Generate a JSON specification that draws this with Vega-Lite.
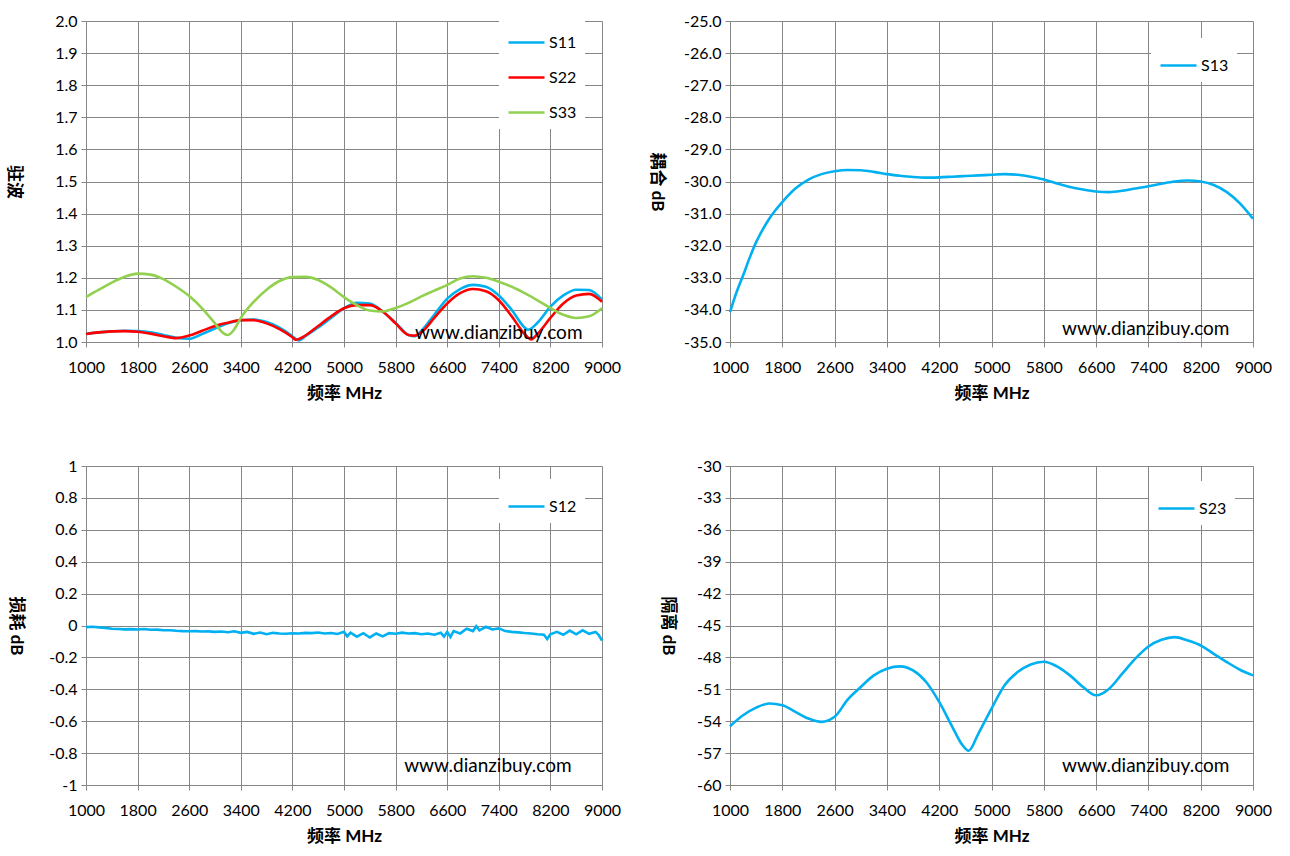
{
  "$schema": "https://vega.github.io/schema/vega-lite/v6.json",
  "background": "white",
  "padding": {"left": 5, "top": 13, "right": 0, "bottom": 0},
  "config": {
    "font": "Lato, Noto Sans CJK SC",
    "view": {"stroke": null},
    "locale": {"number": {"decimal": ".", "thousands": ",", "grouping": [3], "currency": ["$", ""], "minus": "-"}},
    "axis": {
      "gridColor": "#868686", "gridWidth": 1, "gridOpacity": 1,
      "domainColor": "#868686", "tickColor": "#868686", "tickSize": 5,
      "labelFont": "Lato", "labelFontSize": 16, "labelColor": "#000000",
      "titleFont": "Lato, Noto Sans CJK SC", "titleFontSize": 17, "titleFontWeight": "bold", "titleColor": "#000000",
      "labelOverlap": false, "labelFlush": false, "tickCount": 20
    },
    "axisX": {"labelPadding": 12, "titlePadding": 10},
    "axisY": {"labelPadding": 4, "titleAngle": 90, "titleAlign": "center", "titleBaseline": "middle"},
    "legend": {
      "fillColor": "white", "padding": 8, "symbolType": "stroke", "symbolSize": 1296,
      "symbolStrokeWidth": 2.5, "labelFont": "Lato", "labelFontSize": 16, "labelColor": "#000000",
      "labelOffset": 3, "rowPadding": 7
    }
  },
  "columns": 2,
  "bounds": "flush",
  "spacing": {"row": 124, "column": 128},
  "resolve": {
    "scale": {"x": "independent", "y": "independent", "color": "independent", "strokeWidth": "independent"},
    "legend": {"color": "independent"}
  },
  "concat": [
    {
      "width": 516, "height": 321,
      "layer": [
        {
          "data": {"values": [
            {"f":1000,"v":1.025,"s":"S11"},{"f":1200,"v":1.030,"s":"S11"},{"f":1400,"v":1.033,"s":"S11"},{"f":1600,"v":1.035,"s":"S11"},{"f":1800,"v":1.034,"s":"S11"},{"f":2000,"v":1.030,"s":"S11"},{"f":2200,"v":1.022,"s":"S11"},{"f":2400,"v":1.013,"s":"S11"},{"f":2600,"v":1.010,"s":"S11"},{"f":2800,"v":1.025,"s":"S11"},{"f":3000,"v":1.042,"s":"S11"},{"f":3200,"v":1.058,"s":"S11"},{"f":3400,"v":1.068,"s":"S11"},{"f":3600,"v":1.070,"s":"S11"},{"f":3800,"v":1.062,"s":"S11"},{"f":4000,"v":1.045,"s":"S11"},{"f":4200,"v":1.018,"s":"S11"},{"f":4300,"v":1.005,"s":"S11"},{"f":4400,"v":1.018,"s":"S11"},{"f":4600,"v":1.045,"s":"S11"},{"f":4800,"v":1.075,"s":"S11"},{"f":5000,"v":1.105,"s":"S11"},{"f":5200,"v":1.122,"s":"S11"},{"f":5400,"v":1.120,"s":"S11"},{"f":5600,"v":1.095,"s":"S11"},{"f":5800,"v":1.060,"s":"S11"},{"f":6000,"v":1.022,"s":"S11"},{"f":6100,"v":1.018,"s":"S11"},{"f":6200,"v":1.035,"s":"S11"},{"f":6400,"v":1.085,"s":"S11"},{"f":6600,"v":1.135,"s":"S11"},{"f":6800,"v":1.165,"s":"S11"},{"f":7000,"v":1.178,"s":"S11"},{"f":7200,"v":1.172,"s":"S11"},{"f":7400,"v":1.145,"s":"S11"},{"f":7600,"v":1.100,"s":"S11"},{"f":7800,"v":1.045,"s":"S11"},{"f":7850,"v":1.038,"s":"S11"},{"f":8000,"v":1.060,"s":"S11"},{"f":8200,"v":1.110,"s":"S11"},{"f":8400,"v":1.145,"s":"S11"},{"f":8600,"v":1.163,"s":"S11"},{"f":8800,"v":1.162,"s":"S11"},{"f":9000,"v":1.132,"s":"S11"},
            {"f":1000,"v":1.025,"s":"S22"},{"f":1200,"v":1.030,"s":"S22"},{"f":1400,"v":1.033,"s":"S22"},{"f":1600,"v":1.034,"s":"S22"},{"f":1800,"v":1.032,"s":"S22"},{"f":2000,"v":1.026,"s":"S22"},{"f":2200,"v":1.018,"s":"S22"},{"f":2400,"v":1.012,"s":"S22"},{"f":2600,"v":1.020,"s":"S22"},{"f":2800,"v":1.035,"s":"S22"},{"f":3000,"v":1.050,"s":"S22"},{"f":3200,"v":1.060,"s":"S22"},{"f":3400,"v":1.068,"s":"S22"},{"f":3600,"v":1.068,"s":"S22"},{"f":3800,"v":1.058,"s":"S22"},{"f":4000,"v":1.040,"s":"S22"},{"f":4200,"v":1.015,"s":"S22"},{"f":4250,"v":1.007,"s":"S22"},{"f":4400,"v":1.020,"s":"S22"},{"f":4600,"v":1.050,"s":"S22"},{"f":4800,"v":1.080,"s":"S22"},{"f":5000,"v":1.105,"s":"S22"},{"f":5200,"v":1.115,"s":"S22"},{"f":5400,"v":1.115,"s":"S22"},{"f":5600,"v":1.095,"s":"S22"},{"f":5800,"v":1.058,"s":"S22"},{"f":6000,"v":1.022,"s":"S22"},{"f":6100,"v":1.020,"s":"S22"},{"f":6200,"v":1.030,"s":"S22"},{"f":6400,"v":1.075,"s":"S22"},{"f":6600,"v":1.120,"s":"S22"},{"f":6800,"v":1.152,"s":"S22"},{"f":7000,"v":1.165,"s":"S22"},{"f":7200,"v":1.158,"s":"S22"},{"f":7400,"v":1.130,"s":"S22"},{"f":7600,"v":1.080,"s":"S22"},{"f":7800,"v":1.025,"s":"S22"},{"f":7900,"v":1.008,"s":"S22"},{"f":8000,"v":1.025,"s":"S22"},{"f":8200,"v":1.075,"s":"S22"},{"f":8400,"v":1.120,"s":"S22"},{"f":8600,"v":1.145,"s":"S22"},{"f":8800,"v":1.150,"s":"S22"},{"f":9000,"v":1.125,"s":"S22"},
            {"f":1000,"v":1.140,"s":"S33"},{"f":1200,"v":1.163,"s":"S33"},{"f":1400,"v":1.185,"s":"S33"},{"f":1600,"v":1.203,"s":"S33"},{"f":1800,"v":1.213,"s":"S33"},{"f":2000,"v":1.210,"s":"S33"},{"f":2200,"v":1.196,"s":"S33"},{"f":2400,"v":1.172,"s":"S33"},{"f":2600,"v":1.143,"s":"S33"},{"f":2800,"v":1.105,"s":"S33"},{"f":3000,"v":1.058,"s":"S33"},{"f":3100,"v":1.033,"s":"S33"},{"f":3200,"v":1.022,"s":"S33"},{"f":3300,"v":1.040,"s":"S33"},{"f":3400,"v":1.075,"s":"S33"},{"f":3600,"v":1.125,"s":"S33"},{"f":3800,"v":1.163,"s":"S33"},{"f":4000,"v":1.190,"s":"S33"},{"f":4200,"v":1.202,"s":"S33"},{"f":4400,"v":1.203,"s":"S33"},{"f":4600,"v":1.193,"s":"S33"},{"f":4800,"v":1.170,"s":"S33"},{"f":5000,"v":1.140,"s":"S33"},{"f":5200,"v":1.115,"s":"S33"},{"f":5400,"v":1.098,"s":"S33"},{"f":5600,"v":1.095,"s":"S33"},{"f":5800,"v":1.106,"s":"S33"},{"f":6000,"v":1.122,"s":"S33"},{"f":6200,"v":1.142,"s":"S33"},{"f":6400,"v":1.160,"s":"S33"},{"f":6600,"v":1.178,"s":"S33"},{"f":6800,"v":1.198,"s":"S33"},{"f":7000,"v":1.205,"s":"S33"},{"f":7200,"v":1.200,"s":"S33"},{"f":7400,"v":1.188,"s":"S33"},{"f":7600,"v":1.172,"s":"S33"},{"f":7800,"v":1.152,"s":"S33"},{"f":8000,"v":1.130,"s":"S33"},{"f":8200,"v":1.106,"s":"S33"},{"f":8400,"v":1.085,"s":"S33"},{"f":8600,"v":1.075,"s":"S33"},{"f":8800,"v":1.080,"s":"S33"},{"f":9000,"v":1.105,"s":"S33"}
          ]},
          "mark": {"type": "line", "interpolate": "monotone"},
          "encoding": {
            "x": {"field": "f", "type": "quantitative", "scale": {"domain": [1000, 9000], "nice": false, "zero": false},
                  "axis": {"values": [1000,1800,2600,3400,4200,5000,5800,6600,7400,8200,9000], "format": "d", "title": "频率 MHz", "tickCount": 20}},
            "y": {"field": "v", "type": "quantitative", "scale": {"domain": [1, 2], "nice": false, "zero": false},
                  "axis": {"values": [1,1.1,1.2,1.3,1.4,1.5,1.6,1.7,1.8,1.9,2], "format": ".1f", "title": "驻波", "titleX": -73, "tickCount": 20}},
            "color": {"field": "s", "type": "nominal",
                      "scale": {"domain": ["S11","S22","S33"], "range": ["#00B0F0","#FF0000","#92D050"]},
                      "legend": {"title": null, "orient": "none", "legendX": 413, "legendY": -6}},
            "strokeWidth": {"field": "s", "type": "nominal", "scale": {"domain": ["S11","S22","S33"], "range": [2.6,2.6,2]}, "legend": null}
          }
        },
        {
          "data": {"values": [{"label": "www.dianzibuy.com"}]},
          "mark": {"type": "text", "fontSize": 19, "font": "Lato", "align": "center", "baseline": "middle", "color": "#000000"},
          "encoding": {"x": {"datum": 7400}, "y": {"datum": 1.028}, "text": {"field": "label"}}
        }
      ]
    },
    {
      "width": 523, "height": 321,
      "layer": [
        {
          "data": {"values": [
            {"f":1000,"v":-34.07,"s":"S13"},{"f":1100,"v":-33.45,"s":"S13"},{"f":1200,"v":-32.93,"s":"S13"},{"f":1300,"v":-32.38,"s":"S13"},{"f":1400,"v":-31.89,"s":"S13"},{"f":1500,"v":-31.50,"s":"S13"},{"f":1600,"v":-31.16,"s":"S13"},{"f":1700,"v":-30.88,"s":"S13"},{"f":1800,"v":-30.64,"s":"S13"},{"f":2000,"v":-30.22,"s":"S13"},{"f":2200,"v":-29.94,"s":"S13"},{"f":2400,"v":-29.77,"s":"S13"},{"f":2600,"v":-29.68,"s":"S13"},{"f":2800,"v":-29.64,"s":"S13"},{"f":3000,"v":-29.65,"s":"S13"},{"f":3200,"v":-29.70,"s":"S13"},{"f":3400,"v":-29.77,"s":"S13"},{"f":3600,"v":-29.82,"s":"S13"},{"f":3800,"v":-29.86,"s":"S13"},{"f":4000,"v":-29.88,"s":"S13"},{"f":4200,"v":-29.87,"s":"S13"},{"f":4400,"v":-29.85,"s":"S13"},{"f":4600,"v":-29.83,"s":"S13"},{"f":4800,"v":-29.81,"s":"S13"},{"f":5000,"v":-29.79,"s":"S13"},{"f":5200,"v":-29.77,"s":"S13"},{"f":5400,"v":-29.79,"s":"S13"},{"f":5600,"v":-29.85,"s":"S13"},{"f":5800,"v":-29.94,"s":"S13"},{"f":6000,"v":-30.06,"s":"S13"},{"f":6200,"v":-30.17,"s":"S13"},{"f":6400,"v":-30.25,"s":"S13"},{"f":6600,"v":-30.31,"s":"S13"},{"f":6800,"v":-30.33,"s":"S13"},{"f":7000,"v":-30.29,"s":"S13"},{"f":7200,"v":-30.22,"s":"S13"},{"f":7400,"v":-30.15,"s":"S13"},{"f":7600,"v":-30.07,"s":"S13"},{"f":7800,"v":-30.00,"s":"S13"},{"f":8000,"v":-29.97,"s":"S13"},{"f":8200,"v":-30.00,"s":"S13"},{"f":8400,"v":-30.11,"s":"S13"},{"f":8600,"v":-30.33,"s":"S13"},{"f":8800,"v":-30.68,"s":"S13"},{"f":9000,"v":-31.16,"s":"S13"}
          ]},
          "mark": {"type": "line", "interpolate": "monotone", "strokeWidth": 2.6},
          "encoding": {
            "x": {"field": "f", "type": "quantitative", "scale": {"domain": [1000, 9000], "nice": false, "zero": false},
                  "axis": {"values": [1000,1800,2600,3400,4200,5000,5800,6600,7400,8200,9000], "format": "d", "title": "频率 MHz", "tickCount": 20}},
            "y": {"field": "v", "type": "quantitative", "scale": {"domain": [-35, -25], "nice": false, "zero": false},
                  "axis": {"values": [-35,-34,-33,-32,-31,-30,-29,-28,-27,-26,-25], "format": ".1f", "title": "耦合 dB", "titleX": -74, "tickCount": 20}},
            "color": {"field": "s", "type": "nominal", "scale": {"domain": ["S13"], "range": ["#00B0F0"]},
                      "legend": {"title": null, "orient": "none", "legendX": 421, "legendY": 17}}
          }
        },
        {
          "data": {"values": [{"label": "www.dianzibuy.com"}]},
          "mark": {"type": "text", "fontSize": 19, "font": "Lato", "align": "center", "baseline": "middle", "color": "#000000"},
          "encoding": {"x": {"datum": 7360}, "y": {"datum": -34.58}, "text": {"field": "label"}}
        }
      ]
    },
    {
      "width": 516, "height": 319,
      "layer": [
        {
          "data": {"values": [
            {"f":1000,"v":-0.010,"s":"S12"},{"f":1100,"v":-0.008,"s":"S12"},{"f":1200,"v":-0.012,"s":"S12"},{"f":1300,"v":-0.015,"s":"S12"},{"f":1400,"v":-0.020,"s":"S12"},{"f":1500,"v":-0.022,"s":"S12"},{"f":1600,"v":-0.024,"s":"S12"},{"f":1700,"v":-0.023,"s":"S12"},{"f":1800,"v":-0.025,"s":"S12"},{"f":1900,"v":-0.022,"s":"S12"},{"f":2000,"v":-0.027,"s":"S12"},{"f":2100,"v":-0.026,"s":"S12"},{"f":2200,"v":-0.030,"s":"S12"},{"f":2300,"v":-0.030,"s":"S12"},{"f":2400,"v":-0.033,"s":"S12"},{"f":2500,"v":-0.035,"s":"S12"},{"f":2600,"v":-0.036,"s":"S12"},{"f":2700,"v":-0.035,"s":"S12"},{"f":2800,"v":-0.038,"s":"S12"},{"f":2900,"v":-0.037,"s":"S12"},{"f":3000,"v":-0.040,"s":"S12"},{"f":3100,"v":-0.038,"s":"S12"},{"f":3200,"v":-0.042,"s":"S12"},{"f":3300,"v":-0.036,"s":"S12"},{"f":3400,"v":-0.046,"s":"S12"},{"f":3500,"v":-0.040,"s":"S12"},{"f":3600,"v":-0.052,"s":"S12"},{"f":3700,"v":-0.044,"s":"S12"},{"f":3800,"v":-0.055,"s":"S12"},{"f":3900,"v":-0.046,"s":"S12"},{"f":4000,"v":-0.050,"s":"S12"},{"f":4100,"v":-0.052,"s":"S12"},{"f":4200,"v":-0.049,"s":"S12"},{"f":4300,"v":-0.050,"s":"S12"},{"f":4400,"v":-0.046,"s":"S12"},{"f":4500,"v":-0.048,"s":"S12"},{"f":4600,"v":-0.044,"s":"S12"},{"f":4700,"v":-0.050,"s":"S12"},{"f":4800,"v":-0.047,"s":"S12"},{"f":4900,"v":-0.053,"s":"S12"},{"f":5000,"v":-0.040,"s":"S12"},{"f":5050,"v":-0.068,"s":"S12"},{"f":5100,"v":-0.045,"s":"S12"},{"f":5200,"v":-0.070,"s":"S12"},{"f":5300,"v":-0.048,"s":"S12"},{"f":5400,"v":-0.075,"s":"S12"},{"f":5500,"v":-0.050,"s":"S12"},{"f":5600,"v":-0.068,"s":"S12"},{"f":5700,"v":-0.048,"s":"S12"},{"f":5800,"v":-0.052,"s":"S12"},{"f":5900,"v":-0.045,"s":"S12"},{"f":6000,"v":-0.050,"s":"S12"},{"f":6100,"v":-0.048,"s":"S12"},{"f":6200,"v":-0.055,"s":"S12"},{"f":6300,"v":-0.050,"s":"S12"},{"f":6400,"v":-0.058,"s":"S12"},{"f":6500,"v":-0.045,"s":"S12"},{"f":6550,"v":-0.070,"s":"S12"},{"f":6600,"v":-0.040,"s":"S12"},{"f":6650,"v":-0.072,"s":"S12"},{"f":6700,"v":-0.035,"s":"S12"},{"f":6800,"v":-0.050,"s":"S12"},{"f":6900,"v":-0.020,"s":"S12"},{"f":7000,"v":-0.035,"s":"S12"},{"f":7050,"v":-0.005,"s":"S12"},{"f":7100,"v":-0.030,"s":"S12"},{"f":7200,"v":-0.008,"s":"S12"},{"f":7300,"v":-0.025,"s":"S12"},{"f":7400,"v":-0.018,"s":"S12"},{"f":7500,"v":-0.035,"s":"S12"},{"f":7600,"v":-0.040,"s":"S12"},{"f":7700,"v":-0.043,"s":"S12"},{"f":7800,"v":-0.047,"s":"S12"},{"f":7900,"v":-0.050,"s":"S12"},{"f":8000,"v":-0.055,"s":"S12"},{"f":8100,"v":-0.058,"s":"S12"},{"f":8150,"v":-0.085,"s":"S12"},{"f":8200,"v":-0.055,"s":"S12"},{"f":8300,"v":-0.040,"s":"S12"},{"f":8400,"v":-0.058,"s":"S12"},{"f":8500,"v":-0.032,"s":"S12"},{"f":8600,"v":-0.055,"s":"S12"},{"f":8700,"v":-0.030,"s":"S12"},{"f":8800,"v":-0.052,"s":"S12"},{"f":8900,"v":-0.040,"s":"S12"},{"f":8950,"v":-0.060,"s":"S12"},{"f":9000,"v":-0.095,"s":"S12"}
          ]},
          "mark": {"type": "line", "strokeWidth": 2.6},
          "encoding": {
            "x": {"field": "f", "type": "quantitative", "scale": {"domain": [1000, 9000], "nice": false, "zero": false},
                  "axis": {"values": [1000,1800,2600,3400,4200,5000,5800,6600,7400,8200,9000], "format": "d", "title": "频率 MHz", "tickCount": 20}},
            "y": {"field": "v", "type": "quantitative", "scale": {"domain": [-1, 1], "nice": false, "zero": false},
                  "axis": {"values": [-1,-0.8,-0.6,-0.4,-0.2,0,0.2,0.4,0.6,0.8,1], "format": "~g", "title": "损耗 dB", "titleX": -71, "tickCount": 20}},
            "color": {"field": "s", "type": "nominal", "scale": {"domain": ["S12"], "range": ["#00B0F0"]},
                      "legend": {"title": null, "orient": "none", "legendX": 413, "legendY": 13}}
          }
        },
        {
          "data": {"values": [{"label": "www.dianzibuy.com"}]},
          "mark": {"type": "text", "fontSize": 19, "font": "Lato", "align": "center", "baseline": "middle", "color": "#000000"},
          "encoding": {"x": {"datum": 7230}, "y": {"datum": -0.88}, "text": {"field": "label"}}
        }
      ]
    },
    {
      "width": 523, "height": 319,
      "layer": [
        {
          "data": {"values": [
            {"f":1000,"v":-54.47,"s":"S23"},{"f":1200,"v":-53.44,"s":"S23"},{"f":1400,"v":-52.72,"s":"S23"},{"f":1600,"v":-52.34,"s":"S23"},{"f":1800,"v":-52.50,"s":"S23"},{"f":2000,"v":-53.12,"s":"S23"},{"f":2200,"v":-53.75,"s":"S23"},{"f":2400,"v":-54.06,"s":"S23"},{"f":2600,"v":-53.59,"s":"S23"},{"f":2800,"v":-51.97,"s":"S23"},{"f":3000,"v":-50.78,"s":"S23"},{"f":3200,"v":-49.69,"s":"S23"},{"f":3400,"v":-49.06,"s":"S23"},{"f":3600,"v":-48.84,"s":"S23"},{"f":3800,"v":-49.22,"s":"S23"},{"f":4000,"v":-50.31,"s":"S23"},{"f":4200,"v":-52.19,"s":"S23"},{"f":4400,"v":-54.53,"s":"S23"},{"f":4550,"v":-56.20,"s":"S23"},{"f":4650,"v":-56.78,"s":"S23"},{"f":4800,"v":-55.16,"s":"S23"},{"f":5000,"v":-52.81,"s":"S23"},{"f":5200,"v":-50.62,"s":"S23"},{"f":5400,"v":-49.38,"s":"S23"},{"f":5600,"v":-48.66,"s":"S23"},{"f":5800,"v":-48.41,"s":"S23"},{"f":6000,"v":-48.84,"s":"S23"},{"f":6200,"v":-49.69,"s":"S23"},{"f":6400,"v":-50.78,"s":"S23"},{"f":6600,"v":-51.56,"s":"S23"},{"f":6800,"v":-50.94,"s":"S23"},{"f":7000,"v":-49.53,"s":"S23"},{"f":7200,"v":-48.12,"s":"S23"},{"f":7400,"v":-46.97,"s":"S23"},{"f":7600,"v":-46.34,"s":"S23"},{"f":7800,"v":-46.09,"s":"S23"},{"f":8000,"v":-46.41,"s":"S23"},{"f":8200,"v":-46.88,"s":"S23"},{"f":8400,"v":-47.66,"s":"S23"},{"f":8600,"v":-48.44,"s":"S23"},{"f":8800,"v":-49.16,"s":"S23"},{"f":9000,"v":-49.69,"s":"S23"}
          ]},
          "mark": {"type": "line", "interpolate": "monotone", "strokeWidth": 2.6},
          "encoding": {
            "x": {"field": "f", "type": "quantitative", "scale": {"domain": [1000, 9000], "nice": false, "zero": false},
                  "axis": {"values": [1000,1800,2600,3400,4200,5000,5800,6600,7400,8200,9000], "format": "d", "title": "频率 MHz", "tickCount": 20}},
            "y": {"field": "v", "type": "quantitative", "scale": {"domain": [-60, -30], "nice": false, "zero": false},
                  "axis": {"values": [-60,-57,-54,-51,-48,-45,-42,-39,-36,-33,-30], "format": "d", "title": "隔离 dB", "titleX": -63, "tickCount": 20}},
            "color": {"field": "s", "type": "nominal", "scale": {"domain": ["S23"], "range": ["#00B0F0"]},
                      "legend": {"title": null, "orient": "none", "legendX": 419, "legendY": 15}}
          }
        },
        {
          "data": {"values": [{"label": "www.dianzibuy.com"}]},
          "mark": {"type": "text", "fontSize": 19, "font": "Lato", "align": "center", "baseline": "middle", "color": "#000000"},
          "encoding": {"x": {"datum": 7360}, "y": {"datum": -58.22}, "text": {"field": "label"}}
        }
      ]
    }
  ]
}
